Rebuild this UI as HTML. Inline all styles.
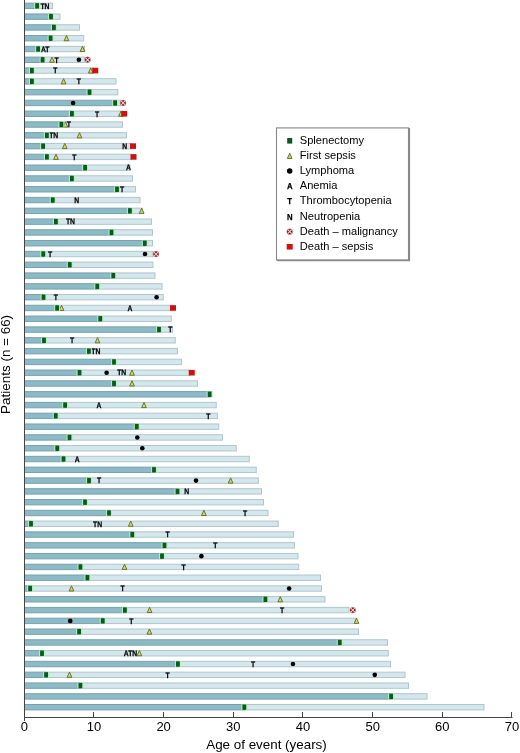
<!DOCTYPE html>
<html><head><meta charset="utf-8"><style>
html,body{margin:0;padding:0;background:#fff;}
svg{display:block;will-change:transform;}
text{font-family:"Liberation Sans",sans-serif;fill:#000;}
.ev{font-size:8px;text-rendering:geometricPrecision;font-weight:bold;stroke:#000;stroke-width:0.25px;text-anchor:middle;}
.tick{font-size:13px;text-anchor:middle;}
.xl{font-size:13.4px;text-anchor:middle;}
.yl{font-size:13.45px;text-anchor:middle;}
.lg{font-size:11.1px;}
.lev{font-size:8.6px;}
</style></head><body>
<svg width="520" height="753" viewBox="0 0 520 753">
<rect width="520" height="753" fill="#fff"/>
<rect x="24.5" y="3.15" width="12.60" height="5.40" fill="#8cbac6" stroke="#77a2ad" stroke-width="1"/>
<rect x="37.10" y="3.15" width="15.40" height="5.40" fill="#d3e7ec" stroke="#b0c6cd" stroke-width="1"/>
<text transform="translate(45.00,8.60) scale(0.85,1)" class="ev">TN</text>
<rect x="34.10" y="2.95" width="6.0" height="5.80" fill="#aeeebb"/>
<rect x="35.20" y="3.15" width="3.8" height="5.40" fill="#0a5a1c"/>
<rect x="24.5" y="13.94" width="26.50" height="5.40" fill="#8cbac6" stroke="#77a2ad" stroke-width="1"/>
<rect x="51.00" y="13.94" width="9.00" height="5.40" fill="#d3e7ec" stroke="#b0c6cd" stroke-width="1"/>
<rect x="48.00" y="13.74" width="6.0" height="5.80" fill="#aeeebb"/>
<rect x="49.10" y="13.94" width="3.8" height="5.40" fill="#0a5a1c"/>
<rect x="24.5" y="24.73" width="29.40" height="5.40" fill="#8cbac6" stroke="#77a2ad" stroke-width="1"/>
<rect x="53.90" y="24.73" width="25.60" height="5.40" fill="#d3e7ec" stroke="#b0c6cd" stroke-width="1"/>
<rect x="50.90" y="24.53" width="6.0" height="5.80" fill="#aeeebb"/>
<rect x="52.00" y="24.73" width="3.8" height="5.40" fill="#0a5a1c"/>
<rect x="24.5" y="35.52" width="26.10" height="5.40" fill="#8cbac6" stroke="#77a2ad" stroke-width="1"/>
<rect x="50.60" y="35.52" width="33.15" height="5.40" fill="#d3e7ec" stroke="#b0c6cd" stroke-width="1"/>
<path d="M66.50,35.52 L68.85,40.72 L64.15,40.72 Z" fill="#cdd870" stroke="#5f6a18" stroke-width="0.9" stroke-linejoin="round"/>
<rect x="47.60" y="35.32" width="6.0" height="5.80" fill="#aeeebb"/>
<rect x="48.70" y="35.52" width="3.8" height="5.40" fill="#0a5a1c"/>
<rect x="24.5" y="46.31" width="13.60" height="5.40" fill="#8cbac6" stroke="#77a2ad" stroke-width="1"/>
<rect x="38.10" y="46.31" width="46.40" height="5.40" fill="#d3e7ec" stroke="#b0c6cd" stroke-width="1"/>
<text transform="translate(45.20,51.76) scale(0.85,1)" class="ev">AT</text>
<path d="M82.50,46.31 L84.85,51.51 L80.15,51.51 Z" fill="#cdd870" stroke="#5f6a18" stroke-width="0.9" stroke-linejoin="round"/>
<rect x="35.10" y="46.11" width="6.0" height="5.80" fill="#aeeebb"/>
<rect x="36.20" y="46.31" width="3.8" height="5.40" fill="#0a5a1c"/>
<rect x="24.5" y="57.10" width="18.10" height="5.40" fill="#8cbac6" stroke="#77a2ad" stroke-width="1"/>
<rect x="42.60" y="57.10" width="42.40" height="5.40" fill="#d3e7ec" stroke="#b0c6cd" stroke-width="1"/>
<path d="M52.00,57.10 L54.35,62.30 L49.65,62.30 Z" fill="#cdd870" stroke="#5f6a18" stroke-width="0.9" stroke-linejoin="round"/>
<text transform="translate(56.50,62.55) scale(0.85,1)" class="ev">T</text>
<circle cx="78.90" cy="59.80" r="2.3" fill="#000"/>
<circle cx="87.60" cy="59.80" r="2.95" fill="#761414" stroke="#eea4a4" stroke-width="0.5"/><path d="M85.60,57.80 L89.60,61.80 M89.60,57.80 L85.60,61.80" stroke="#f8d0d0" stroke-width="1.05"/>
<rect x="39.60" y="56.90" width="6.0" height="5.80" fill="#aeeebb"/>
<rect x="40.70" y="57.10" width="3.8" height="5.40" fill="#0a5a1c"/>
<rect x="24.5" y="67.89" width="7.40" height="5.40" fill="#8cbac6" stroke="#77a2ad" stroke-width="1"/>
<rect x="31.90" y="67.89" width="61.60" height="5.40" fill="#d3e7ec" stroke="#b0c6cd" stroke-width="1"/>
<text transform="translate(55.40,73.34) scale(0.85,1)" class="ev">T</text>
<path d="M90.75,67.89 L93.10,73.09 L88.40,73.09 Z" fill="#cdd870" stroke="#5f6a18" stroke-width="0.9" stroke-linejoin="round"/>
<rect x="92.25" y="67.79" width="6" height="5.6" fill="#d01010"/>
<rect x="28.90" y="67.69" width="6.0" height="5.80" fill="#aeeebb"/>
<rect x="30.00" y="67.89" width="3.8" height="5.40" fill="#0a5a1c"/>
<rect x="24.5" y="78.68" width="7.40" height="5.40" fill="#8cbac6" stroke="#77a2ad" stroke-width="1"/>
<rect x="31.90" y="78.68" width="84.10" height="5.40" fill="#d3e7ec" stroke="#b0c6cd" stroke-width="1"/>
<path d="M63.60,78.68 L65.95,83.88 L61.25,83.88 Z" fill="#cdd870" stroke="#5f6a18" stroke-width="0.9" stroke-linejoin="round"/>
<text transform="translate(78.90,84.13) scale(0.85,1)" class="ev">T</text>
<rect x="28.90" y="78.48" width="6.0" height="5.80" fill="#aeeebb"/>
<rect x="30.00" y="78.68" width="3.8" height="5.40" fill="#0a5a1c"/>
<rect x="24.5" y="89.47" width="65.00" height="5.40" fill="#8cbac6" stroke="#77a2ad" stroke-width="1"/>
<rect x="89.50" y="89.47" width="28.30" height="5.40" fill="#d3e7ec" stroke="#b0c6cd" stroke-width="1"/>
<rect x="86.50" y="89.27" width="6.0" height="5.80" fill="#aeeebb"/>
<rect x="87.60" y="89.47" width="3.8" height="5.40" fill="#0a5a1c"/>
<rect x="24.5" y="100.26" width="90.60" height="5.40" fill="#8cbac6" stroke="#77a2ad" stroke-width="1"/>
<rect x="115.10" y="100.26" width="5.40" height="5.40" fill="#d3e7ec" stroke="#b0c6cd" stroke-width="1"/>
<circle cx="73.10" cy="102.96" r="2.3" fill="#000"/>
<circle cx="123.10" cy="102.96" r="2.95" fill="#761414" stroke="#eea4a4" stroke-width="0.5"/><path d="M121.10,100.96 L125.10,104.96 M125.10,100.96 L121.10,104.96" stroke="#f8d0d0" stroke-width="1.05"/>
<rect x="112.10" y="100.06" width="6.0" height="5.80" fill="#aeeebb"/>
<rect x="113.20" y="100.26" width="3.8" height="5.40" fill="#0a5a1c"/>
<rect x="24.5" y="111.05" width="47.40" height="5.40" fill="#8cbac6" stroke="#77a2ad" stroke-width="1"/>
<rect x="71.90" y="111.05" width="50.10" height="5.40" fill="#d3e7ec" stroke="#b0c6cd" stroke-width="1"/>
<text transform="translate(97.00,116.50) scale(0.85,1)" class="ev">T</text>
<path d="M121.00,111.05 L123.35,116.25 L118.65,116.25 Z" fill="#cdd870" stroke="#5f6a18" stroke-width="0.9" stroke-linejoin="round"/>
<rect x="121.20" y="110.95" width="6" height="5.6" fill="#d01010"/>
<rect x="68.90" y="110.85" width="6.0" height="5.80" fill="#aeeebb"/>
<rect x="70.00" y="111.05" width="3.8" height="5.40" fill="#0a5a1c"/>
<rect x="24.5" y="121.84" width="36.90" height="5.40" fill="#8cbac6" stroke="#77a2ad" stroke-width="1"/>
<rect x="61.40" y="121.84" width="61.10" height="5.40" fill="#d3e7ec" stroke="#b0c6cd" stroke-width="1"/>
<path d="M65.40,121.84 L67.75,127.04 L63.05,127.04 Z" fill="#cdd870" stroke="#5f6a18" stroke-width="0.9" stroke-linejoin="round"/>
<text transform="translate(68.90,127.29) scale(0.85,1)" class="ev">T</text>
<rect x="58.40" y="121.64" width="6.0" height="5.80" fill="#aeeebb"/>
<rect x="59.50" y="121.84" width="3.8" height="5.40" fill="#0a5a1c"/>
<rect x="24.5" y="132.63" width="22.40" height="5.40" fill="#8cbac6" stroke="#77a2ad" stroke-width="1"/>
<rect x="46.90" y="132.63" width="79.60" height="5.40" fill="#d3e7ec" stroke="#b0c6cd" stroke-width="1"/>
<text transform="translate(53.75,138.08) scale(0.85,1)" class="ev">TN</text>
<path d="M79.50,132.63 L81.85,137.83 L77.15,137.83 Z" fill="#cdd870" stroke="#5f6a18" stroke-width="0.9" stroke-linejoin="round"/>
<rect x="43.90" y="132.43" width="6.0" height="5.80" fill="#aeeebb"/>
<rect x="45.00" y="132.63" width="3.8" height="5.40" fill="#0a5a1c"/>
<rect x="24.5" y="143.42" width="18.60" height="5.40" fill="#8cbac6" stroke="#77a2ad" stroke-width="1"/>
<rect x="43.10" y="143.42" width="87.90" height="5.40" fill="#d3e7ec" stroke="#b0c6cd" stroke-width="1"/>
<path d="M64.75,143.42 L67.10,148.62 L62.40,148.62 Z" fill="#cdd870" stroke="#5f6a18" stroke-width="0.9" stroke-linejoin="round"/>
<text transform="translate(124.75,148.87) scale(0.85,1)" class="ev">N</text>
<rect x="130.00" y="143.32" width="6" height="5.6" fill="#d01010"/>
<rect x="40.10" y="143.22" width="6.0" height="5.80" fill="#aeeebb"/>
<rect x="41.20" y="143.42" width="3.8" height="5.40" fill="#0a5a1c"/>
<rect x="24.5" y="154.21" width="22.40" height="5.40" fill="#8cbac6" stroke="#77a2ad" stroke-width="1"/>
<rect x="46.90" y="154.21" width="84.60" height="5.40" fill="#d3e7ec" stroke="#b0c6cd" stroke-width="1"/>
<path d="M56.00,154.21 L58.35,159.41 L53.65,159.41 Z" fill="#cdd870" stroke="#5f6a18" stroke-width="0.9" stroke-linejoin="round"/>
<text transform="translate(74.25,159.66) scale(0.85,1)" class="ev">T</text>
<rect x="130.50" y="154.11" width="6" height="5.6" fill="#d01010"/>
<rect x="43.90" y="154.01" width="6.0" height="5.80" fill="#aeeebb"/>
<rect x="45.00" y="154.21" width="3.8" height="5.40" fill="#0a5a1c"/>
<rect x="24.5" y="165.00" width="60.60" height="5.40" fill="#8cbac6" stroke="#77a2ad" stroke-width="1"/>
<rect x="85.10" y="165.00" width="44.90" height="5.40" fill="#d3e7ec" stroke="#b0c6cd" stroke-width="1"/>
<text transform="translate(128.40,170.45) scale(0.85,1)" class="ev">A</text>
<rect x="82.10" y="164.80" width="6.0" height="5.80" fill="#aeeebb"/>
<rect x="83.20" y="165.00" width="3.8" height="5.40" fill="#0a5a1c"/>
<rect x="24.5" y="175.79" width="47.40" height="5.40" fill="#8cbac6" stroke="#77a2ad" stroke-width="1"/>
<rect x="71.90" y="175.79" width="60.60" height="5.40" fill="#d3e7ec" stroke="#b0c6cd" stroke-width="1"/>
<rect x="68.90" y="175.59" width="6.0" height="5.80" fill="#aeeebb"/>
<rect x="70.00" y="175.79" width="3.8" height="5.40" fill="#0a5a1c"/>
<rect x="24.5" y="186.58" width="92.50" height="5.40" fill="#8cbac6" stroke="#77a2ad" stroke-width="1"/>
<rect x="117.00" y="186.58" width="18.50" height="5.40" fill="#d3e7ec" stroke="#b0c6cd" stroke-width="1"/>
<text transform="translate(122.10,192.03) scale(0.85,1)" class="ev">T</text>
<rect x="114.00" y="186.38" width="6.0" height="5.80" fill="#aeeebb"/>
<rect x="115.10" y="186.58" width="3.8" height="5.40" fill="#0a5a1c"/>
<rect x="24.5" y="197.37" width="28.25" height="5.40" fill="#8cbac6" stroke="#77a2ad" stroke-width="1"/>
<rect x="52.75" y="197.37" width="87.25" height="5.40" fill="#d3e7ec" stroke="#b0c6cd" stroke-width="1"/>
<text transform="translate(76.75,202.82) scale(0.85,1)" class="ev">N</text>
<rect x="49.75" y="197.17" width="6.0" height="5.80" fill="#aeeebb"/>
<rect x="50.85" y="197.37" width="3.8" height="5.40" fill="#0a5a1c"/>
<rect x="24.5" y="208.16" width="105.40" height="5.40" fill="#8cbac6" stroke="#77a2ad" stroke-width="1"/>
<rect x="129.90" y="208.16" width="12.10" height="5.40" fill="#d3e7ec" stroke="#b0c6cd" stroke-width="1"/>
<path d="M141.70,208.16 L144.05,213.36 L139.35,213.36 Z" fill="#cdd870" stroke="#5f6a18" stroke-width="0.9" stroke-linejoin="round"/>
<rect x="126.90" y="207.96" width="6.0" height="5.80" fill="#aeeebb"/>
<rect x="128.00" y="208.16" width="3.8" height="5.40" fill="#0a5a1c"/>
<rect x="24.5" y="218.95" width="31.40" height="5.40" fill="#8cbac6" stroke="#77a2ad" stroke-width="1"/>
<rect x="55.90" y="218.95" width="95.60" height="5.40" fill="#d3e7ec" stroke="#b0c6cd" stroke-width="1"/>
<text transform="translate(70.50,224.40) scale(0.85,1)" class="ev">TN</text>
<rect x="52.90" y="218.75" width="6.0" height="5.80" fill="#aeeebb"/>
<rect x="54.00" y="218.95" width="3.8" height="5.40" fill="#0a5a1c"/>
<rect x="24.5" y="229.74" width="87.00" height="5.40" fill="#8cbac6" stroke="#77a2ad" stroke-width="1"/>
<rect x="111.50" y="229.74" width="41.00" height="5.40" fill="#d3e7ec" stroke="#b0c6cd" stroke-width="1"/>
<rect x="108.50" y="229.54" width="6.0" height="5.80" fill="#aeeebb"/>
<rect x="109.60" y="229.74" width="3.8" height="5.40" fill="#0a5a1c"/>
<rect x="24.5" y="240.53" width="120.30" height="5.40" fill="#8cbac6" stroke="#77a2ad" stroke-width="1"/>
<rect x="144.80" y="240.53" width="7.70" height="5.40" fill="#d3e7ec" stroke="#b0c6cd" stroke-width="1"/>
<rect x="141.80" y="240.33" width="6.0" height="5.80" fill="#aeeebb"/>
<rect x="142.90" y="240.53" width="3.8" height="5.40" fill="#0a5a1c"/>
<rect x="24.5" y="251.32" width="18.75" height="5.40" fill="#8cbac6" stroke="#77a2ad" stroke-width="1"/>
<rect x="43.25" y="251.32" width="109.75" height="5.40" fill="#d3e7ec" stroke="#b0c6cd" stroke-width="1"/>
<text transform="translate(50.10,256.77) scale(0.85,1)" class="ev">T</text>
<circle cx="145.00" cy="254.02" r="2.3" fill="#000"/>
<circle cx="156.00" cy="254.02" r="2.95" fill="#761414" stroke="#eea4a4" stroke-width="0.5"/><path d="M154.00,252.02 L158.00,256.02 M158.00,252.02 L154.00,256.02" stroke="#f8d0d0" stroke-width="1.05"/>
<rect x="40.25" y="251.12" width="6.0" height="5.80" fill="#aeeebb"/>
<rect x="41.35" y="251.32" width="3.8" height="5.40" fill="#0a5a1c"/>
<rect x="24.5" y="262.11" width="45.25" height="5.40" fill="#8cbac6" stroke="#77a2ad" stroke-width="1"/>
<rect x="69.75" y="262.11" width="83.25" height="5.40" fill="#d3e7ec" stroke="#b0c6cd" stroke-width="1"/>
<rect x="66.75" y="261.91" width="6.0" height="5.80" fill="#aeeebb"/>
<rect x="67.85" y="262.11" width="3.8" height="5.40" fill="#0a5a1c"/>
<rect x="24.5" y="272.90" width="88.75" height="5.40" fill="#8cbac6" stroke="#77a2ad" stroke-width="1"/>
<rect x="113.25" y="272.90" width="41.75" height="5.40" fill="#d3e7ec" stroke="#b0c6cd" stroke-width="1"/>
<rect x="110.25" y="272.70" width="6.0" height="5.80" fill="#aeeebb"/>
<rect x="111.35" y="272.90" width="3.8" height="5.40" fill="#0a5a1c"/>
<rect x="24.5" y="283.69" width="72.75" height="5.40" fill="#8cbac6" stroke="#77a2ad" stroke-width="1"/>
<rect x="97.25" y="283.69" width="64.75" height="5.40" fill="#d3e7ec" stroke="#b0c6cd" stroke-width="1"/>
<rect x="94.25" y="283.49" width="6.0" height="5.80" fill="#aeeebb"/>
<rect x="95.35" y="283.69" width="3.8" height="5.40" fill="#0a5a1c"/>
<rect x="24.5" y="294.48" width="19.00" height="5.40" fill="#8cbac6" stroke="#77a2ad" stroke-width="1"/>
<rect x="43.50" y="294.48" width="119.75" height="5.40" fill="#d3e7ec" stroke="#b0c6cd" stroke-width="1"/>
<text transform="translate(55.90,299.93) scale(0.85,1)" class="ev">T</text>
<circle cx="156.60" cy="297.18" r="2.3" fill="#000"/>
<rect x="40.50" y="294.28" width="6.0" height="5.80" fill="#aeeebb"/>
<rect x="41.60" y="294.48" width="3.8" height="5.40" fill="#0a5a1c"/>
<rect x="24.5" y="305.27" width="32.60" height="5.40" fill="#8cbac6" stroke="#77a2ad" stroke-width="1"/>
<rect x="57.10" y="305.27" width="113.90" height="5.40" fill="#d3e7ec" stroke="#b0c6cd" stroke-width="1"/>
<path d="M61.50,305.27 L63.85,310.47 L59.15,310.47 Z" fill="#cdd870" stroke="#5f6a18" stroke-width="0.9" stroke-linejoin="round"/>
<text transform="translate(130.00,310.72) scale(0.85,1)" class="ev">A</text>
<rect x="170.00" y="305.17" width="6" height="5.6" fill="#d01010"/>
<rect x="54.10" y="305.07" width="6.0" height="5.80" fill="#aeeebb"/>
<rect x="55.20" y="305.27" width="3.8" height="5.40" fill="#0a5a1c"/>
<rect x="24.5" y="316.06" width="75.75" height="5.40" fill="#8cbac6" stroke="#77a2ad" stroke-width="1"/>
<rect x="100.25" y="316.06" width="71.00" height="5.40" fill="#d3e7ec" stroke="#b0c6cd" stroke-width="1"/>
<rect x="97.25" y="315.86" width="6.0" height="5.80" fill="#aeeebb"/>
<rect x="98.35" y="316.06" width="3.8" height="5.40" fill="#0a5a1c"/>
<rect x="24.5" y="326.85" width="134.50" height="5.40" fill="#8cbac6" stroke="#77a2ad" stroke-width="1"/>
<rect x="159.00" y="326.85" width="13.50" height="5.40" fill="#d3e7ec" stroke="#b0c6cd" stroke-width="1"/>
<text transform="translate(170.25,332.30) scale(0.85,1)" class="ev">T</text>
<rect x="156.00" y="326.65" width="6.0" height="5.80" fill="#aeeebb"/>
<rect x="157.10" y="326.85" width="3.8" height="5.40" fill="#0a5a1c"/>
<rect x="24.5" y="337.64" width="19.50" height="5.40" fill="#8cbac6" stroke="#77a2ad" stroke-width="1"/>
<rect x="44.00" y="337.64" width="131.25" height="5.40" fill="#d3e7ec" stroke="#b0c6cd" stroke-width="1"/>
<text transform="translate(72.10,343.09) scale(0.85,1)" class="ev">T</text>
<path d="M97.50,337.64 L99.85,342.84 L95.15,342.84 Z" fill="#cdd870" stroke="#5f6a18" stroke-width="0.9" stroke-linejoin="round"/>
<rect x="41.00" y="337.44" width="6.0" height="5.80" fill="#aeeebb"/>
<rect x="42.10" y="337.64" width="3.8" height="5.40" fill="#0a5a1c"/>
<rect x="24.5" y="348.43" width="64.40" height="5.40" fill="#8cbac6" stroke="#77a2ad" stroke-width="1"/>
<rect x="88.90" y="348.43" width="88.60" height="5.40" fill="#d3e7ec" stroke="#b0c6cd" stroke-width="1"/>
<text transform="translate(95.90,353.88) scale(0.85,1)" class="ev">TN</text>
<rect x="85.90" y="348.23" width="6.0" height="5.80" fill="#aeeebb"/>
<rect x="87.00" y="348.43" width="3.8" height="5.40" fill="#0a5a1c"/>
<rect x="24.5" y="359.22" width="89.50" height="5.40" fill="#8cbac6" stroke="#77a2ad" stroke-width="1"/>
<rect x="114.00" y="359.22" width="67.50" height="5.40" fill="#d3e7ec" stroke="#b0c6cd" stroke-width="1"/>
<rect x="111.00" y="359.02" width="6.0" height="5.80" fill="#aeeebb"/>
<rect x="112.10" y="359.22" width="3.8" height="5.40" fill="#0a5a1c"/>
<rect x="24.5" y="370.01" width="55.00" height="5.40" fill="#8cbac6" stroke="#77a2ad" stroke-width="1"/>
<rect x="79.50" y="370.01" width="110.50" height="5.40" fill="#d3e7ec" stroke="#b0c6cd" stroke-width="1"/>
<circle cx="106.60" cy="372.71" r="2.3" fill="#000"/>
<text transform="translate(121.75,375.46) scale(0.85,1)" class="ev">TN</text>
<path d="M132.00,370.01 L134.35,375.21 L129.65,375.21 Z" fill="#cdd870" stroke="#5f6a18" stroke-width="0.9" stroke-linejoin="round"/>
<rect x="188.75" y="369.91" width="6" height="5.6" fill="#d01010"/>
<rect x="76.50" y="369.81" width="6.0" height="5.80" fill="#aeeebb"/>
<rect x="77.60" y="370.01" width="3.8" height="5.40" fill="#0a5a1c"/>
<rect x="24.5" y="380.80" width="89.50" height="5.40" fill="#8cbac6" stroke="#77a2ad" stroke-width="1"/>
<rect x="114.00" y="380.80" width="83.50" height="5.40" fill="#d3e7ec" stroke="#b0c6cd" stroke-width="1"/>
<path d="M132.00,380.80 L134.35,386.00 L129.65,386.00 Z" fill="#cdd870" stroke="#5f6a18" stroke-width="0.9" stroke-linejoin="round"/>
<rect x="111.00" y="380.60" width="6.0" height="5.80" fill="#aeeebb"/>
<rect x="112.10" y="380.80" width="3.8" height="5.40" fill="#0a5a1c"/>
<rect x="24.5" y="391.59" width="185.10" height="5.40" fill="#8cbac6" stroke="#77a2ad" stroke-width="1"/>
<rect x="209.60" y="391.59" width="2.15" height="5.40" fill="#d3e7ec" stroke="#b0c6cd" stroke-width="1"/>
<rect x="206.60" y="391.39" width="6.0" height="5.80" fill="#aeeebb"/>
<rect x="207.70" y="391.59" width="3.8" height="5.40" fill="#0a5a1c"/>
<rect x="24.5" y="402.38" width="40.60" height="5.40" fill="#8cbac6" stroke="#77a2ad" stroke-width="1"/>
<rect x="65.10" y="402.38" width="151.15" height="5.40" fill="#d3e7ec" stroke="#b0c6cd" stroke-width="1"/>
<text transform="translate(99.00,407.83) scale(0.85,1)" class="ev">A</text>
<path d="M144.00,402.38 L146.35,407.58 L141.65,407.58 Z" fill="#cdd870" stroke="#5f6a18" stroke-width="0.9" stroke-linejoin="round"/>
<rect x="62.10" y="402.18" width="6.0" height="5.80" fill="#aeeebb"/>
<rect x="63.20" y="402.38" width="3.8" height="5.40" fill="#0a5a1c"/>
<rect x="24.5" y="413.17" width="31.25" height="5.40" fill="#8cbac6" stroke="#77a2ad" stroke-width="1"/>
<rect x="55.75" y="413.17" width="161.75" height="5.40" fill="#d3e7ec" stroke="#b0c6cd" stroke-width="1"/>
<text transform="translate(208.40,418.62) scale(0.85,1)" class="ev">T</text>
<rect x="52.75" y="412.97" width="6.0" height="5.80" fill="#aeeebb"/>
<rect x="53.85" y="413.17" width="3.8" height="5.40" fill="#0a5a1c"/>
<rect x="24.5" y="423.96" width="112.25" height="5.40" fill="#8cbac6" stroke="#77a2ad" stroke-width="1"/>
<rect x="136.75" y="423.96" width="82.00" height="5.40" fill="#d3e7ec" stroke="#b0c6cd" stroke-width="1"/>
<rect x="133.75" y="423.76" width="6.0" height="5.80" fill="#aeeebb"/>
<rect x="134.85" y="423.96" width="3.8" height="5.40" fill="#0a5a1c"/>
<rect x="24.5" y="434.75" width="45.00" height="5.40" fill="#8cbac6" stroke="#77a2ad" stroke-width="1"/>
<rect x="69.50" y="434.75" width="153.00" height="5.40" fill="#d3e7ec" stroke="#b0c6cd" stroke-width="1"/>
<circle cx="137.30" cy="437.45" r="2.3" fill="#000"/>
<rect x="66.50" y="434.55" width="6.0" height="5.80" fill="#aeeebb"/>
<rect x="67.60" y="434.75" width="3.8" height="5.40" fill="#0a5a1c"/>
<rect x="24.5" y="445.54" width="32.75" height="5.40" fill="#8cbac6" stroke="#77a2ad" stroke-width="1"/>
<rect x="57.25" y="445.54" width="179.00" height="5.40" fill="#d3e7ec" stroke="#b0c6cd" stroke-width="1"/>
<circle cx="142.30" cy="448.24" r="2.3" fill="#000"/>
<rect x="54.25" y="445.34" width="6.0" height="5.80" fill="#aeeebb"/>
<rect x="55.35" y="445.54" width="3.8" height="5.40" fill="#0a5a1c"/>
<rect x="24.5" y="456.33" width="39.00" height="5.40" fill="#8cbac6" stroke="#77a2ad" stroke-width="1"/>
<rect x="63.50" y="456.33" width="185.75" height="5.40" fill="#d3e7ec" stroke="#b0c6cd" stroke-width="1"/>
<text transform="translate(77.25,461.78) scale(0.85,1)" class="ev">A</text>
<rect x="60.50" y="456.13" width="6.0" height="5.80" fill="#aeeebb"/>
<rect x="61.60" y="456.33" width="3.8" height="5.40" fill="#0a5a1c"/>
<rect x="24.5" y="467.12" width="129.50" height="5.40" fill="#8cbac6" stroke="#77a2ad" stroke-width="1"/>
<rect x="154.00" y="467.12" width="102.25" height="5.40" fill="#d3e7ec" stroke="#b0c6cd" stroke-width="1"/>
<rect x="151.00" y="466.92" width="6.0" height="5.80" fill="#aeeebb"/>
<rect x="152.10" y="467.12" width="3.8" height="5.40" fill="#0a5a1c"/>
<rect x="24.5" y="477.91" width="64.50" height="5.40" fill="#8cbac6" stroke="#77a2ad" stroke-width="1"/>
<rect x="89.00" y="477.91" width="169.25" height="5.40" fill="#d3e7ec" stroke="#b0c6cd" stroke-width="1"/>
<text transform="translate(99.10,483.36) scale(0.85,1)" class="ev">T</text>
<circle cx="196.00" cy="480.61" r="2.3" fill="#000"/>
<path d="M230.60,477.91 L232.95,483.11 L228.25,483.11 Z" fill="#cdd870" stroke="#5f6a18" stroke-width="0.9" stroke-linejoin="round"/>
<rect x="86.00" y="477.71" width="6.0" height="5.80" fill="#aeeebb"/>
<rect x="87.10" y="477.91" width="3.8" height="5.40" fill="#0a5a1c"/>
<rect x="24.5" y="488.70" width="153.00" height="5.40" fill="#8cbac6" stroke="#77a2ad" stroke-width="1"/>
<rect x="177.50" y="488.70" width="84.00" height="5.40" fill="#d3e7ec" stroke="#b0c6cd" stroke-width="1"/>
<text transform="translate(186.75,494.15) scale(0.85,1)" class="ev">N</text>
<rect x="174.50" y="488.50" width="6.0" height="5.80" fill="#aeeebb"/>
<rect x="175.60" y="488.70" width="3.8" height="5.40" fill="#0a5a1c"/>
<rect x="24.5" y="499.49" width="60.50" height="5.40" fill="#8cbac6" stroke="#77a2ad" stroke-width="1"/>
<rect x="85.00" y="499.49" width="178.50" height="5.40" fill="#d3e7ec" stroke="#b0c6cd" stroke-width="1"/>
<rect x="82.00" y="499.29" width="6.0" height="5.80" fill="#aeeebb"/>
<rect x="83.10" y="499.49" width="3.8" height="5.40" fill="#0a5a1c"/>
<rect x="24.5" y="510.28" width="84.50" height="5.40" fill="#8cbac6" stroke="#77a2ad" stroke-width="1"/>
<rect x="109.00" y="510.28" width="159.00" height="5.40" fill="#d3e7ec" stroke="#b0c6cd" stroke-width="1"/>
<path d="M203.90,510.28 L206.25,515.48 L201.55,515.48 Z" fill="#cdd870" stroke="#5f6a18" stroke-width="0.9" stroke-linejoin="round"/>
<text transform="translate(245.00,515.73) scale(0.85,1)" class="ev">T</text>
<rect x="106.00" y="510.08" width="6.0" height="5.80" fill="#aeeebb"/>
<rect x="107.10" y="510.28" width="3.8" height="5.40" fill="#0a5a1c"/>
<rect x="24.5" y="521.07" width="6.50" height="5.40" fill="#8cbac6" stroke="#77a2ad" stroke-width="1"/>
<rect x="31.00" y="521.07" width="247.25" height="5.40" fill="#d3e7ec" stroke="#b0c6cd" stroke-width="1"/>
<text transform="translate(97.60,526.52) scale(0.85,1)" class="ev">TN</text>
<path d="M130.75,521.07 L133.10,526.27 L128.40,526.27 Z" fill="#cdd870" stroke="#5f6a18" stroke-width="0.9" stroke-linejoin="round"/>
<rect x="28.00" y="520.87" width="6.0" height="5.80" fill="#aeeebb"/>
<rect x="29.10" y="521.07" width="3.8" height="5.40" fill="#0a5a1c"/>
<rect x="24.5" y="531.86" width="107.75" height="5.40" fill="#8cbac6" stroke="#77a2ad" stroke-width="1"/>
<rect x="132.25" y="531.86" width="161.25" height="5.40" fill="#d3e7ec" stroke="#b0c6cd" stroke-width="1"/>
<text transform="translate(167.50,537.31) scale(0.85,1)" class="ev">T</text>
<rect x="129.25" y="531.66" width="6.0" height="5.80" fill="#aeeebb"/>
<rect x="130.35" y="531.86" width="3.8" height="5.40" fill="#0a5a1c"/>
<rect x="24.5" y="542.65" width="140.00" height="5.40" fill="#8cbac6" stroke="#77a2ad" stroke-width="1"/>
<rect x="164.50" y="542.65" width="130.00" height="5.40" fill="#d3e7ec" stroke="#b0c6cd" stroke-width="1"/>
<text transform="translate(215.40,548.10) scale(0.85,1)" class="ev">T</text>
<rect x="161.50" y="542.45" width="6.0" height="5.80" fill="#aeeebb"/>
<rect x="162.60" y="542.65" width="3.8" height="5.40" fill="#0a5a1c"/>
<rect x="24.5" y="553.44" width="137.50" height="5.40" fill="#8cbac6" stroke="#77a2ad" stroke-width="1"/>
<rect x="162.00" y="553.44" width="136.00" height="5.40" fill="#d3e7ec" stroke="#b0c6cd" stroke-width="1"/>
<circle cx="201.40" cy="556.14" r="2.3" fill="#000"/>
<rect x="159.00" y="553.24" width="6.0" height="5.80" fill="#aeeebb"/>
<rect x="160.10" y="553.44" width="3.8" height="5.40" fill="#0a5a1c"/>
<rect x="24.5" y="564.23" width="55.90" height="5.40" fill="#8cbac6" stroke="#77a2ad" stroke-width="1"/>
<rect x="80.40" y="564.23" width="218.35" height="5.40" fill="#d3e7ec" stroke="#b0c6cd" stroke-width="1"/>
<path d="M124.50,564.23 L126.85,569.43 L122.15,569.43 Z" fill="#cdd870" stroke="#5f6a18" stroke-width="0.9" stroke-linejoin="round"/>
<text transform="translate(183.60,569.68) scale(0.85,1)" class="ev">T</text>
<rect x="77.40" y="564.03" width="6.0" height="5.80" fill="#aeeebb"/>
<rect x="78.50" y="564.23" width="3.8" height="5.40" fill="#0a5a1c"/>
<rect x="24.5" y="575.02" width="62.90" height="5.40" fill="#8cbac6" stroke="#77a2ad" stroke-width="1"/>
<rect x="87.40" y="575.02" width="233.10" height="5.40" fill="#d3e7ec" stroke="#b0c6cd" stroke-width="1"/>
<rect x="84.40" y="574.82" width="6.0" height="5.80" fill="#aeeebb"/>
<rect x="85.50" y="575.02" width="3.8" height="5.40" fill="#0a5a1c"/>
<rect x="24.5" y="585.81" width="5.60" height="5.40" fill="#8cbac6" stroke="#77a2ad" stroke-width="1"/>
<rect x="30.10" y="585.81" width="291.40" height="5.40" fill="#d3e7ec" stroke="#b0c6cd" stroke-width="1"/>
<path d="M71.50,585.81 L73.85,591.01 L69.15,591.01 Z" fill="#cdd870" stroke="#5f6a18" stroke-width="0.9" stroke-linejoin="round"/>
<text transform="translate(122.60,591.26) scale(0.85,1)" class="ev">T</text>
<circle cx="289.10" cy="588.51" r="2.3" fill="#000"/>
<rect x="27.10" y="585.61" width="6.0" height="5.80" fill="#aeeebb"/>
<rect x="28.20" y="585.81" width="3.8" height="5.40" fill="#0a5a1c"/>
<rect x="24.5" y="596.60" width="240.90" height="5.40" fill="#8cbac6" stroke="#77a2ad" stroke-width="1"/>
<rect x="265.40" y="596.60" width="59.60" height="5.40" fill="#d3e7ec" stroke="#b0c6cd" stroke-width="1"/>
<path d="M280.25,596.60 L282.60,601.80 L277.90,601.80 Z" fill="#cdd870" stroke="#5f6a18" stroke-width="0.9" stroke-linejoin="round"/>
<rect x="262.40" y="596.40" width="6.0" height="5.80" fill="#aeeebb"/>
<rect x="263.50" y="596.60" width="3.8" height="5.40" fill="#0a5a1c"/>
<rect x="24.5" y="607.39" width="100.40" height="5.40" fill="#8cbac6" stroke="#77a2ad" stroke-width="1"/>
<rect x="124.90" y="607.39" width="224.10" height="5.40" fill="#d3e7ec" stroke="#b0c6cd" stroke-width="1"/>
<path d="M149.60,607.39 L151.95,612.59 L147.25,612.59 Z" fill="#cdd870" stroke="#5f6a18" stroke-width="0.9" stroke-linejoin="round"/>
<text transform="translate(282.10,612.84) scale(0.85,1)" class="ev">T</text>
<circle cx="352.80" cy="610.09" r="2.95" fill="#761414" stroke="#eea4a4" stroke-width="0.5"/><path d="M350.80,608.09 L354.80,612.09 M354.80,608.09 L350.80,612.09" stroke="#f8d0d0" stroke-width="1.05"/>
<rect x="121.90" y="607.19" width="6.0" height="5.80" fill="#aeeebb"/>
<rect x="123.00" y="607.39" width="3.8" height="5.40" fill="#0a5a1c"/>
<rect x="24.5" y="618.18" width="78.25" height="5.40" fill="#8cbac6" stroke="#77a2ad" stroke-width="1"/>
<rect x="102.75" y="618.18" width="253.75" height="5.40" fill="#d3e7ec" stroke="#b0c6cd" stroke-width="1"/>
<circle cx="70.25" cy="620.88" r="2.3" fill="#000"/>
<text transform="translate(131.40,623.63) scale(0.85,1)" class="ev">T</text>
<path d="M356.50,618.18 L358.85,623.38 L354.15,623.38 Z" fill="#cdd870" stroke="#5f6a18" stroke-width="0.9" stroke-linejoin="round"/>
<rect x="99.75" y="617.98" width="6.0" height="5.80" fill="#aeeebb"/>
<rect x="100.85" y="618.18" width="3.8" height="5.40" fill="#0a5a1c"/>
<rect x="24.5" y="628.97" width="54.60" height="5.40" fill="#8cbac6" stroke="#77a2ad" stroke-width="1"/>
<rect x="79.10" y="628.97" width="279.40" height="5.40" fill="#d3e7ec" stroke="#b0c6cd" stroke-width="1"/>
<path d="M149.40,628.97 L151.75,634.17 L147.05,634.17 Z" fill="#cdd870" stroke="#5f6a18" stroke-width="0.9" stroke-linejoin="round"/>
<rect x="76.10" y="628.77" width="6.0" height="5.80" fill="#aeeebb"/>
<rect x="77.20" y="628.97" width="3.8" height="5.40" fill="#0a5a1c"/>
<rect x="24.5" y="639.76" width="315.25" height="5.40" fill="#8cbac6" stroke="#77a2ad" stroke-width="1"/>
<rect x="339.75" y="639.76" width="47.75" height="5.40" fill="#d3e7ec" stroke="#b0c6cd" stroke-width="1"/>
<rect x="336.75" y="639.56" width="6.0" height="5.80" fill="#aeeebb"/>
<rect x="337.85" y="639.76" width="3.8" height="5.40" fill="#0a5a1c"/>
<rect x="24.5" y="650.55" width="17.50" height="5.40" fill="#8cbac6" stroke="#77a2ad" stroke-width="1"/>
<rect x="42.00" y="650.55" width="346.25" height="5.40" fill="#d3e7ec" stroke="#b0c6cd" stroke-width="1"/>
<text transform="translate(130.50,656.00) scale(0.85,1)" class="ev">ATN</text>
<path d="M139.40,650.55 L141.75,655.75 L137.05,655.75 Z" fill="#cdd870" stroke="#5f6a18" stroke-width="0.9" stroke-linejoin="round"/>
<rect x="39.00" y="650.35" width="6.0" height="5.80" fill="#aeeebb"/>
<rect x="40.10" y="650.55" width="3.8" height="5.40" fill="#0a5a1c"/>
<rect x="24.5" y="661.34" width="153.40" height="5.40" fill="#8cbac6" stroke="#77a2ad" stroke-width="1"/>
<rect x="177.90" y="661.34" width="212.60" height="5.40" fill="#d3e7ec" stroke="#b0c6cd" stroke-width="1"/>
<text transform="translate(253.10,666.79) scale(0.85,1)" class="ev">T</text>
<circle cx="292.90" cy="664.04" r="2.3" fill="#000"/>
<rect x="174.90" y="661.14" width="6.0" height="5.80" fill="#aeeebb"/>
<rect x="176.00" y="661.34" width="3.8" height="5.40" fill="#0a5a1c"/>
<rect x="24.5" y="672.13" width="21.60" height="5.40" fill="#8cbac6" stroke="#77a2ad" stroke-width="1"/>
<rect x="46.10" y="672.13" width="358.90" height="5.40" fill="#d3e7ec" stroke="#b0c6cd" stroke-width="1"/>
<path d="M69.50,672.13 L71.85,677.33 L67.15,677.33 Z" fill="#cdd870" stroke="#5f6a18" stroke-width="0.9" stroke-linejoin="round"/>
<text transform="translate(167.50,677.58) scale(0.85,1)" class="ev">T</text>
<circle cx="374.75" cy="674.83" r="2.3" fill="#000"/>
<rect x="43.10" y="671.93" width="6.0" height="5.80" fill="#aeeebb"/>
<rect x="44.20" y="672.13" width="3.8" height="5.40" fill="#0a5a1c"/>
<rect x="24.5" y="682.92" width="55.90" height="5.40" fill="#8cbac6" stroke="#77a2ad" stroke-width="1"/>
<rect x="80.40" y="682.92" width="328.10" height="5.40" fill="#d3e7ec" stroke="#b0c6cd" stroke-width="1"/>
<rect x="77.40" y="682.72" width="6.0" height="5.80" fill="#aeeebb"/>
<rect x="78.50" y="682.92" width="3.8" height="5.40" fill="#0a5a1c"/>
<rect x="24.5" y="693.71" width="366.60" height="5.40" fill="#8cbac6" stroke="#77a2ad" stroke-width="1"/>
<rect x="391.10" y="693.71" width="35.90" height="5.40" fill="#d3e7ec" stroke="#b0c6cd" stroke-width="1"/>
<rect x="388.10" y="693.51" width="6.0" height="5.80" fill="#aeeebb"/>
<rect x="389.20" y="693.71" width="3.8" height="5.40" fill="#0a5a1c"/>
<rect x="24.5" y="704.50" width="219.80" height="5.40" fill="#8cbac6" stroke="#77a2ad" stroke-width="1"/>
<rect x="244.30" y="704.50" width="239.70" height="5.40" fill="#d3e7ec" stroke="#b0c6cd" stroke-width="1"/>
<rect x="241.30" y="704.30" width="6.0" height="5.80" fill="#aeeebb"/>
<rect x="242.40" y="704.50" width="3.8" height="5.40" fill="#0a5a1c"/>
<line x1="24.5" y1="0" x2="24.5" y2="721" stroke="#444" stroke-width="1"/>
<line x1="24" y1="717.5" x2="512.5" y2="717.5" stroke="#444" stroke-width="1"/>
<line x1="24.50" y1="712" x2="24.50" y2="717.5" stroke="#444" stroke-width="1"/>
<text x="24.30" y="730.5" class="tick">0</text>
<line x1="93.50" y1="712" x2="93.50" y2="717.5" stroke="#444" stroke-width="1"/>
<text x="93.97" y="730.5" class="tick">10</text>
<line x1="163.50" y1="712" x2="163.50" y2="717.5" stroke="#444" stroke-width="1"/>
<text x="163.64" y="730.5" class="tick">20</text>
<line x1="233.50" y1="712" x2="233.50" y2="717.5" stroke="#444" stroke-width="1"/>
<text x="233.31" y="730.5" class="tick">30</text>
<line x1="302.50" y1="712" x2="302.50" y2="717.5" stroke="#444" stroke-width="1"/>
<text x="302.98" y="730.5" class="tick">40</text>
<line x1="372.50" y1="712" x2="372.50" y2="717.5" stroke="#444" stroke-width="1"/>
<text x="372.65" y="730.5" class="tick">50</text>
<line x1="442.50" y1="712" x2="442.50" y2="717.5" stroke="#444" stroke-width="1"/>
<text x="442.32" y="730.5" class="tick">60</text>
<line x1="511.50" y1="712" x2="511.50" y2="717.5" stroke="#444" stroke-width="1"/>
<text x="511.99" y="730.5" class="tick">70</text>
<text x="266.5" y="749.1" class="xl">Age of event (years)</text>
<text transform="translate(10.2,364.4) rotate(-90)" class="yl">Patients (n = 66)</text>
<rect x="276.5" y="127.9" width="132" height="132" fill="#fff" stroke="#888" stroke-width="1.1"/>
<line x1="409.4" y1="128" x2="409.4" y2="261" stroke="#8a8a8a" stroke-width="1.4"/>
<line x1="277" y1="260.6" x2="410" y2="260.6" stroke="#8a8a8a" stroke-width="1.4"/>
<text x="299.8" y="143.80" class="lg">Splenectomy</text>
<rect x="287.20" y="138.00" width="5" height="5.6" fill="#0a5a1c"/>
<text x="299.8" y="158.94" class="lg">First sepsis</text>
<path d="M289.70,153.24 L292.05,158.44 L287.35,158.44 Z" fill="#cdd870" stroke="#5f6a18" stroke-width="0.9" stroke-linejoin="round"/>
<text x="299.8" y="174.08" class="lg">Lymphoma</text>
<circle cx="289.70" cy="171.08" r="2.75" fill="#000"/>
<text x="299.8" y="189.22" class="lg">Anemia</text>
<text transform="translate(289.70,189.32) scale(0.9,1)" class="ev lev">A</text>
<text x="299.8" y="204.36" class="lg">Thrombocytopenia</text>
<text transform="translate(289.70,204.46) scale(0.9,1)" class="ev lev">T</text>
<text x="299.8" y="219.50" class="lg">Neutropenia</text>
<text transform="translate(289.70,219.60) scale(0.9,1)" class="ev lev">N</text>
<text x="299.8" y="234.64" class="lg">Death – malignancy</text>
<circle cx="289.70" cy="231.64" r="2.95" fill="#761414" stroke="#eea4a4" stroke-width="0.5"/><path d="M287.70,229.64 L291.70,233.64 M291.70,229.64 L287.70,233.64" stroke="#f8d0d0" stroke-width="1.05"/>
<text x="299.8" y="249.78" class="lg">Death – sepsis</text>
<rect x="286.70" y="243.98" width="6" height="5.6" fill="#d01010"/>
</svg>
</body></html>
